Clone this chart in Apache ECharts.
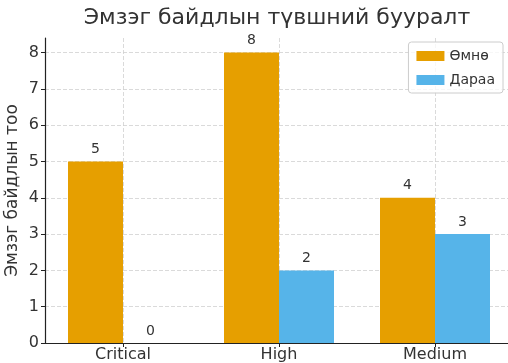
<!DOCTYPE html>
<html>
<head>
<meta charset="utf-8">
<script src="https://cdn.jsdelivr.net/npm/echarts@6/dist/echarts.min.js"></script>
<style>html,body{margin:0;padding:0;background:#fff}#c{width:508px;height:363px}</style>
</head>
<body>
<div id="c"></div>
<script>
const categories = ['Critical', 'High', 'Medium'];
const beforeValues = [5, 8, 4];
const afterValues = [0, 2, 3];
const seriesNames = ['Өмнө', 'Дараа'];
const yTicks = [0, 1, 2, 3, 4, 5, 6, 7, 8];
const titleText = 'Эмзэг байдлын түвшний бууралт';
const yAxisTitle = 'Эмзэг байдлын тоо';

const FONT = 'DejaVu Sans';
const GRID = '#d0d0d0';
const chart = echarts.init(document.getElementById('c'), null, {renderer: 'canvas'});
const labelStyle = {show: true, position: 'top', distance: 5, fontSize: 14, color: '#333', fontFamily: FONT};
chart.setOption({
  animation: false,
  textStyle: {fontFamily: FONT},
  title: {
    text: titleText, left: 277, top: 7, textAlign: 'center', padding: 0,
    textStyle: {fontSize: 22, fontWeight: 'normal', color: '#333', fontFamily: FONT}
  },
  legend: {
    orient: 'vertical', right: 5, top: 42,
    itemWidth: 28, itemHeight: 10, itemGap: 10, icon: 'rect',
    padding: [7, 8, 6, 8],
    borderColor: '#ccc', borderWidth: 1, borderRadius: 3,
    backgroundColor: 'rgba(255,255,255,0.8)',
    textStyle: {fontSize: 14, color: '#333', fontFamily: FONT},
    data: seriesNames
  },
  grid: {left: 45, right: -5, top: 38, bottom: 20, containLabel: false, outerBoundsMode: 'none'},
  xAxis: [{
    type: 'category', data: categories,
    axisLine: {lineStyle: {color: '#222', width: 1.2}},
    axisTick: {show: true, alignWithLabel: true, length: 4, lineStyle: {color: '#222'}},
    axisLabel: {fontSize: 16, color: '#333', margin: 4, fontFamily: FONT},
    splitLine: {show: false}
  }, {
    type: 'value', position: 'top', min: 0, max: 3, interval: 0.5,
    axisLine: {show: false}, axisTick: {show: false}, axisLabel: {show: false},
    splitLine: {show: true, lineStyle: {color: ['transparent', GRID], type: [4, 2], width: 0.8}}
  }],
  yAxis: {
    type: 'value', min: 0, max: 8.4, interval: 1,
    name: yAxisTitle, nameLocation: 'middle', nameGap: 24, nameMoveOverlap: false,
    nameTextStyle: {fontSize: 17, color: '#333', fontFamily: FONT},
    axisLine: {show: true, lineStyle: {color: '#222', width: 1.2}},
    axisTick: {show: true, length: 4, customValues: yTicks, lineStyle: {color: '#222'}},
    axisLabel: {fontSize: 16, color: '#333', margin: 6, customValues: yTicks, fontFamily: FONT},
    splitLine: {show: true, lineStyle: {color: [GRID, GRID, GRID, GRID, GRID, GRID, GRID, GRID, GRID, 'transparent'], type: [4, 2], width: 0.8}}
  },
  series: [{
    name: seriesNames[0], type: 'bar', data: beforeValues, barWidth: 55, barGap: '0%',
    itemStyle: {color: '#E69F00'}, label: labelStyle
  }, {
    name: seriesNames[1], type: 'bar', data: afterValues, barWidth: 55, barGap: '0%',
    itemStyle: {color: '#56B4E9'}, label: labelStyle
  }]
});
</script>
</body>
</html>
